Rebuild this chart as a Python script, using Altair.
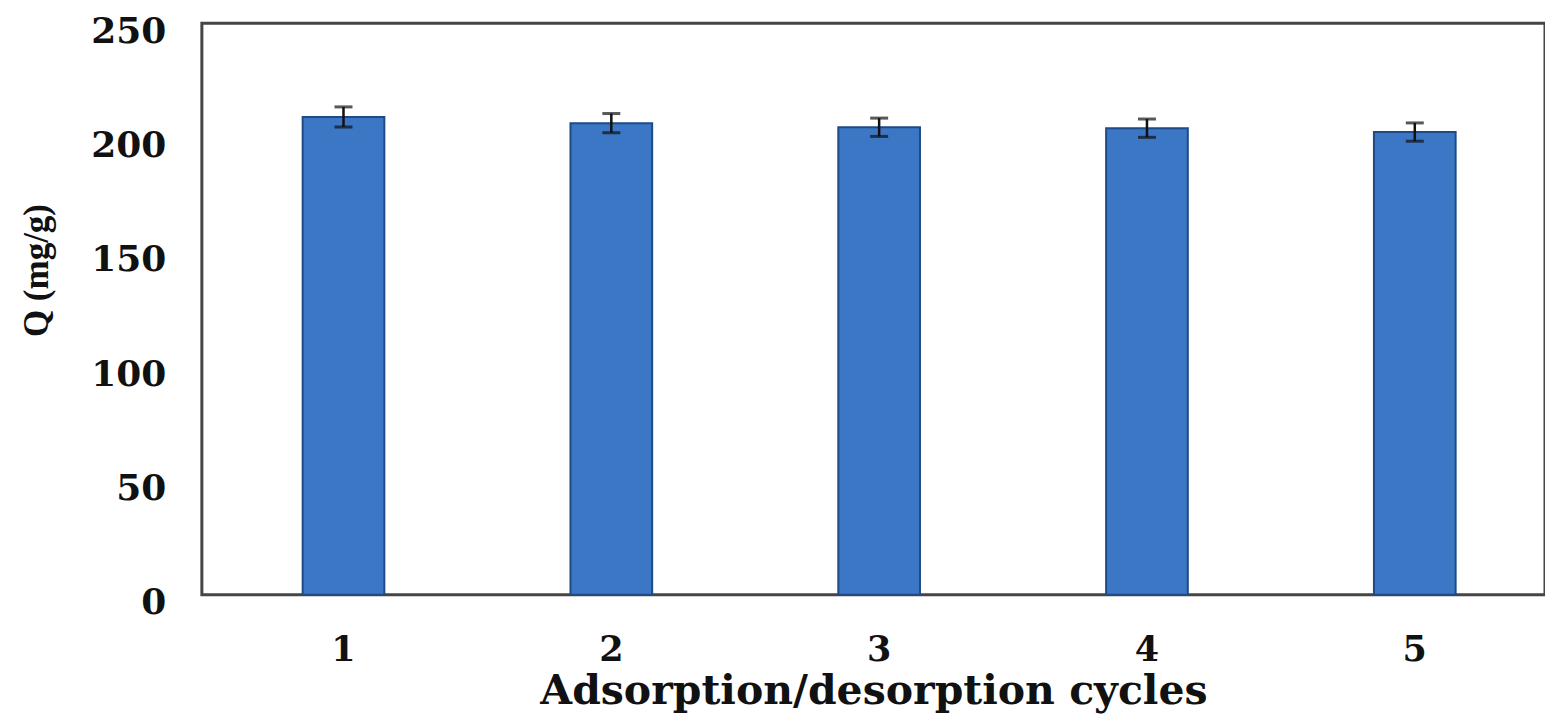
import altair as alt
import pandas as pd

cycles = ["1", "2", "3", "4", "5"]
q_values = [209.0, 206.3, 204.5, 204.1, 202.4]
q_errors = [4.4, 4.2, 4.0, 4.0, 4.0]

df = pd.DataFrame({"cycle": cycles, "q": q_values, "err": q_errors})
df["lo"] = df["q"] - df["err"]
df["hi"] = df["q"] + df["err"]

x_enc = alt.X(
    "cycle:N",
    sort=cycles,
    scale=alt.Scale(paddingInner=0.695, paddingOuter=0.355, align=0.53),
    axis=alt.Axis(
        title="Adsorption/desorption cycles",
        labelAngle=0,
        labelFont="DejaVu Serif",
        labelFontWeight="bold",
        labelFontSize=35,
        labelColor="#111",
        labelPadding=38,
        ticks=False,
        domain=False,
        titleFont="DejaVu Serif",
        titleFontWeight="bold",
        titleFontSize=41,
        titleColor="#111",
        titlePadding=4,
    ),
)

y_scale = alt.Scale(domain=[0, 250])
y_axis = alt.Axis(
    title="Q (mg/g)",
    values=[0, 50, 100, 150, 200, 250],
    grid=False,
    ticks=False,
    domain=False,
    labelFont="DejaVu Serif",
    labelFontWeight="bold",
    labelFontSize=36,
    labelColor="#111",
    labelPadding=36,
    labelOffset=8,
    labelFlush=False,
    titleFont="Liberation Serif",
    titleFontWeight="bold",
    titleFontSize=35,
    titleColor="#111",
    titlePadding=36,
    titleY=247,
)

base = alt.Chart(df)

bars = base.mark_bar(color="#3C77C6", stroke="#1F4A86", strokeWidth=2).encode(
    x=x_enc,
    y=alt.Y("q:Q", scale=y_scale, axis=y_axis),
)

rule = base.mark_rule(color="#111", strokeWidth=2.5).encode(
    x=alt.X("cycle:N", sort=cycles),
    y=alt.Y("lo:Q", scale=y_scale),
    y2="hi:Q",
)

cap_lo = base.mark_tick(color="#111", size=18, thickness=3).encode(
    x=alt.X("cycle:N", sort=cycles),
    y=alt.Y("lo:Q", scale=y_scale),
)
cap_hi = base.mark_tick(color="#111", size=18, thickness=3).encode(
    x=alt.X("cycle:N", sort=cycles),
    y=alt.Y("hi:Q", scale=y_scale),
)

chart = (
    alt.layer(bars, rule, cap_lo, cap_hi)
    .properties(
        width=1344,
        height=572,
        background="white",
        autosize=alt.AutoSizeParams(type="none"),
        padding={"left": 194, "top": 15, "right": 0, "bottom": 120},
    )
    .configure_view(stroke="#454545", strokeWidth=3)
)

chart.save("out.html", embed_options={"renderer": "svg", "actions": False})
